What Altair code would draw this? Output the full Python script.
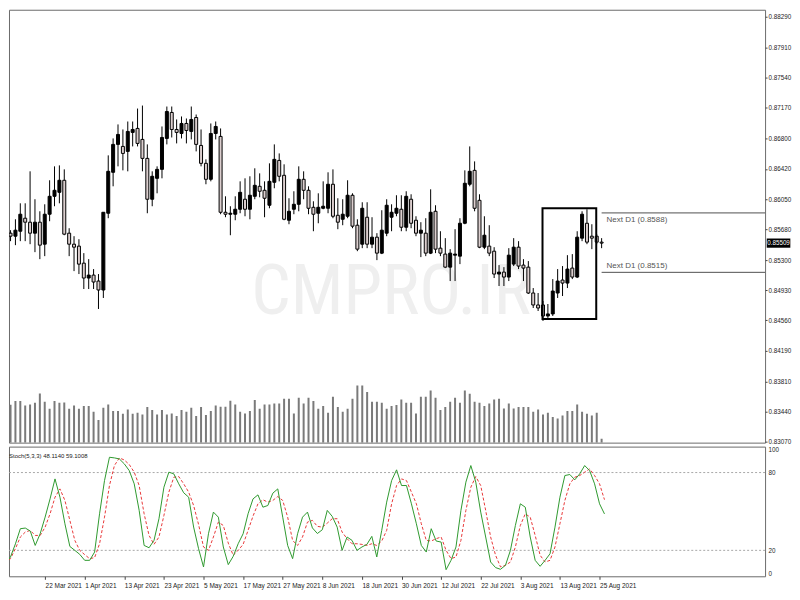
import json
import altair as alt
import pandas as pd

# ---------------- data ----------------
dates = pd.bdate_range("2021-03-10", periods=122)

opens = [
    0.85631, 0.85594, 0.85655, 0.85815, 0.85766, 0.85631, 0.85766, 0.85496, 0.85864, 0.86084,
    0.86133, 0.86281, 0.85631, 0.85496, 0.85472, 0.85263, 0.85080, 0.85116, 0.85043, 0.84933,
    0.85876, 0.86379, 0.86722, 0.86697, 0.86636, 0.86869, 0.86918, 0.86783, 0.86550, 0.86048,
    0.86305, 0.86415, 0.86795, 0.87114, 0.86905, 0.86856, 0.86979, 0.86881, 0.87052, 0.86709,
    0.86489, 0.86293, 0.86856, 0.86820, 0.85888, 0.85864, 0.85864, 0.85925, 0.86048, 0.85925,
    0.86084, 0.86207, 0.86158, 0.85974, 0.86256, 0.86525, 0.86342, 0.85790, 0.85925, 0.85986,
    0.86293, 0.86158, 0.85949, 0.85876, 0.85937, 0.85937, 0.86232, 0.85851, 0.85802, 0.85839,
    0.86097, 0.85729, 0.85496, 0.85827, 0.85496, 0.85582, 0.85386, 0.85631, 0.85827, 0.85876,
    0.85925, 0.85704, 0.86048, 0.85790, 0.85631, 0.85631, 0.85386, 0.85900, 0.85447, 0.85374,
    0.85214, 0.85361, 0.85349, 0.85753, 0.86232, 0.86403, 0.86035, 0.85459, 0.85472, 0.85410,
    0.85129, 0.85153, 0.85092, 0.85251, 0.85459, 0.85239, 0.85214, 0.84896, 0.84749, 0.84749,
    0.84614, 0.84639, 0.84896, 0.85055, 0.85018, 0.85202, 0.85092, 0.85570, 0.85753, 0.85594,
    0.85594, 0.85521,
]
highs = [
    0.85668, 0.85802, 0.85998, 0.85998, 0.86391, 0.86048, 0.85900, 0.85986, 0.86281, 0.86452,
    0.86464, 0.86415, 0.85692, 0.85594, 0.85557, 0.85386, 0.85312, 0.85190, 0.85129, 0.85888,
    0.86587, 0.86795, 0.86967, 0.86905, 0.87003, 0.87003, 0.87162, 0.87199, 0.86722, 0.86391,
    0.86452, 0.86942, 0.87187, 0.87187, 0.87028, 0.87065, 0.87040, 0.87187, 0.87089, 0.86905,
    0.86538, 0.86979, 0.87003, 0.86918, 0.86084, 0.85962, 0.86084, 0.86268, 0.86305, 0.86330,
    0.86428, 0.86366, 0.86268, 0.86489, 0.86722, 0.86611, 0.86477, 0.86060, 0.86146, 0.86452,
    0.86391, 0.86207, 0.86023, 0.86121, 0.86268, 0.86379, 0.86415, 0.86060, 0.86048, 0.86281,
    0.86121, 0.85802, 0.86011, 0.86011, 0.85827, 0.85631, 0.85913, 0.86048, 0.85986, 0.86097,
    0.86097, 0.86146, 0.86109, 0.85839, 0.85766, 0.85815, 0.86170, 0.85974, 0.85655, 0.85570,
    0.85435, 0.85680, 0.85815, 0.86403, 0.86697, 0.86513, 0.86109, 0.85839, 0.85729, 0.85459,
    0.85239, 0.85214, 0.85447, 0.85570, 0.85533, 0.85312, 0.85288, 0.84957, 0.84896, 0.84798,
    0.84761, 0.85067, 0.85190, 0.85227, 0.85361, 0.85374, 0.85655, 0.85900, 0.85925, 0.85741,
    0.85619, 0.85570,
]
lows = [
    0.85533, 0.85484, 0.85533, 0.85533, 0.85496, 0.85398, 0.85312, 0.85349, 0.85778, 0.85962,
    0.85998, 0.85606, 0.85349, 0.85165, 0.85129, 0.84945, 0.84945, 0.84945, 0.84700, 0.84835,
    0.85815, 0.86207, 0.86452, 0.86403, 0.86391, 0.86697, 0.86697, 0.86391, 0.85876, 0.85962,
    0.86121, 0.86305, 0.86722, 0.86807, 0.86734, 0.86795, 0.86734, 0.86783, 0.86636, 0.86452,
    0.86232, 0.86268, 0.86783, 0.85864, 0.85827, 0.85606, 0.85790, 0.85876, 0.85839, 0.85802,
    0.86048, 0.86072, 0.85827, 0.85937, 0.86183, 0.86268, 0.85790, 0.85741, 0.85864, 0.85900,
    0.86048, 0.85864, 0.85655, 0.85753, 0.85925, 0.85876, 0.85815, 0.85680, 0.85729, 0.85815,
    0.85692, 0.85410, 0.85447, 0.85447, 0.85447, 0.85300, 0.85374, 0.85594, 0.85655, 0.85839,
    0.85655, 0.85655, 0.85692, 0.85594, 0.85337, 0.85349, 0.85374, 0.85386, 0.85349, 0.85202,
    0.85043, 0.85043, 0.85251, 0.85741, 0.86207, 0.85900, 0.85447, 0.85435, 0.85349, 0.85080,
    0.84982, 0.84982, 0.85043, 0.85227, 0.85190, 0.85043, 0.84884, 0.84712, 0.84675, 0.84553,
    0.84590, 0.84614, 0.84835, 0.84859, 0.84957, 0.85067, 0.85080, 0.85533, 0.85496, 0.85435,
    0.85496, 0.85447,
]
closes = [
    0.85594, 0.85668, 0.85864, 0.85766, 0.85631, 0.85766, 0.85484, 0.85864, 0.86084, 0.86158,
    0.86281, 0.85619, 0.85496, 0.85459, 0.85251, 0.85080, 0.85116, 0.85031, 0.84933, 0.85888,
    0.86391, 0.86722, 0.86844, 0.86611, 0.86881, 0.86905, 0.86734, 0.86550, 0.86048, 0.86330,
    0.86415, 0.86807, 0.87126, 0.86905, 0.86869, 0.86979, 0.86893, 0.87028, 0.86722, 0.86489,
    0.86293, 0.86856, 0.86942, 0.85888, 0.85864, 0.85876, 0.85925, 0.86133, 0.85925, 0.86097,
    0.86219, 0.86146, 0.86060, 0.86268, 0.86538, 0.86330, 0.85802, 0.85900, 0.85986, 0.86293,
    0.86158, 0.85937, 0.85864, 0.85949, 0.85962, 0.86232, 0.85839, 0.85766, 0.85864, 0.86097,
    0.85717, 0.85435, 0.85937, 0.85496, 0.85582, 0.85386, 0.85668, 0.85974, 0.85888, 0.85937,
    0.85704, 0.86084, 0.85753, 0.85631, 0.85668, 0.85386, 0.85888, 0.85435, 0.85386, 0.85214,
    0.85386, 0.85374, 0.85753, 0.86244, 0.86391, 0.85937, 0.85459, 0.85606, 0.85386, 0.85129,
    0.85153, 0.85092, 0.85361, 0.85459, 0.85227, 0.85202, 0.84896, 0.84749, 0.84712, 0.84614,
    0.84639, 0.84920, 0.85043, 0.85018, 0.85190, 0.85092, 0.85582, 0.85864, 0.85521, 0.85570,
    0.85521, 0.85509,
]
volumes = [
    38000, 41700, 41700, 37300, 38300, 40000, 49300, 41000, 34000, 41700,
    40000, 40300, 34000, 37300, 34000, 36700, 36700, 31000, 22700, 35000,
    38300, 31700, 31700, 29000, 33300, 29000, 30000, 28300, 35700, 32700,
    28300, 32700, 28300, 29300, 26700, 32700, 31000, 35000, 26700, 35700,
    27700, 31700, 37300, 36000, 36000, 42000, 38300, 31000, 29300, 31700,
    42700, 34000, 38300, 38300, 39300, 39300, 44000, 44000, 29300, 45000,
    39300, 45000, 41700, 34000, 36700, 30000, 46000, 35700, 31000, 34000,
    44000, 57300, 57300, 50700, 41000, 41000, 40000, 34000, 36700, 37700,
    43300, 40000, 40000, 29300, 46000, 46000, 52300, 45000, 32700, 35700,
    41000, 45000, 40000, 52300, 49000, 41000, 40000, 36700, 39300, 43300,
    44000, 34300, 39300, 34300, 35700, 35700, 35700, 31000, 33300, 28300,
    30000, 25700, 24300, 27300, 31700, 31700, 38300, 31000, 29000, 27300,
    30000, 4000,
]
stoch_k = [
    9.7, 14.9, 25.0, 36.7, 37.2, 34.9, 23.8, 32.8, 45.6, 59.7,
    75.1, 61.0, 40.5, 23.0, 20.0, 16.9, 12.3, 12.3, 18.7, 48.2,
    73.8, 91.8, 91.3, 90.5, 86.7, 81.5, 71.3, 50.8, 23.8, 22.0,
    27.7, 44.4, 68.7, 80.3, 79.0, 71.3, 64.4, 61.0, 38.0, 21.3,
    7.2, 32.8, 49.5, 45.6, 22.6, 9.0, 15.4, 25.1, 32.8, 48.2,
    59.7, 62.8, 53.3, 54.6, 64.1, 67.4, 45.6, 23.8, 13.6, 32.8,
    45.6, 49.5, 37.3, 33.0, 35.9, 50.8, 46.2, 37.9, 20.0, 30.3,
    27.7, 20.0, 22.6, 24.6, 30.8, 14.9, 35.4, 57.2, 73.8, 82.1,
    70.0, 70.0, 55.9, 40.5, 23.8, 18.7, 36.7, 27.2, 26.4, 5.1,
    12.3, 22.6, 50.8, 72.6, 85.4, 72.6, 49.5, 30.3, 11.0, 6.7,
    5.4, 8.5, 20.0, 39.2, 55.9, 53.3, 30.3, 12.3, 7.7, 12.3,
    17.4, 37.9, 61.0, 77.7, 78.5, 74.4, 79.0, 85.4, 81.5, 71.3,
    55.9, 48.114,
]
stoch_d = [
    9.7, 13.6, 21.3, 30.3, 34.1, 35.4, 31.5, 31.5, 37.9, 48.2,
    61.0, 67.4, 58.5, 43.1, 27.7, 20.0, 16.7, 13.6, 14.4, 25.1,
    45.6, 70.0, 85.4, 91.3, 89.7, 86.2, 80.3, 70.0, 48.2, 31.5,
    24.6, 30.3, 46.9, 64.9, 76.4, 76.9, 71.3, 64.9, 54.6, 40.0,
    22.6, 20.0, 30.3, 41.8, 39.2, 25.6, 16.2, 20.0, 24.6, 35.4,
    46.4, 55.9, 59.0, 57.2, 58.5, 61.5, 58.5, 45.6, 27.7, 23.8,
    30.3, 41.8, 43.1, 38.5, 37.9, 41.0, 44.4, 44.4, 34.1, 29.0,
    25.1, 25.1, 24.6, 23.8, 25.1, 23.8, 27.2, 35.4, 55.9, 70.0,
    75.1, 73.8, 64.9, 55.9, 40.5, 27.7, 27.2, 29.0, 30.3, 20.0,
    13.6, 14.9, 27.7, 50.8, 68.7, 76.9, 70.0, 50.8, 30.3, 16.2,
    7.2, 8.5, 11.0, 22.6, 39.2, 48.2, 45.6, 31.5, 16.2, 11.0,
    12.3, 22.6, 40.5, 58.5, 71.3, 76.4, 77.7, 80.3, 82.8, 77.7,
    71.3, 59.1008,
]

tick_labels = ["22 Mar 2021", "1 Apr 2021", "13 Apr 2021", "23 Apr 2021",
               "5 May 2021", "17 May 2021", "27 May 2021", "8 Jun 2021", "18 Jun 2021",
               "30 Jun 2021", "12 Jul 2021", "22 Jul 2021", "3 Aug 2021", "13 Aug 2021",
               "25 Aug 2021"]
price_ticks = [0.88290, 0.87910, 0.87540, 0.87170, 0.86800, 0.86420, 0.86050, 0.85680,
               0.85300, 0.84930, 0.84560, 0.84190, 0.83810, 0.83440, 0.83070]
next_prices = [0.8588, 0.8515]
next_labels = ["Next D1 (0.8588)", "Next D1 (0.8515)"]
next_side = ["below", "above"]
current_price = [0.85509]
box_x = [108.9, 119.9]
box_y = [0.85937, 0.84577]
stoch_levels = [20, 80]
stoch_axis_ticks = [0, 20, 80, 100]
stoch_title = ["Stoch(5,3,3) 48.1140 59.1008"]
watermark = ["CMPRO.IR"]

# ---------------- tables ----------------
date_strs = [f"{d.day} {d.strftime('%b %Y')}" for d in dates]
df = pd.DataFrame({
    "idx": list(range(len(dates))),
    "date": date_strs,
    "open": opens, "high": highs, "low": lows, "close": closes,
    "volume": volumes, "k": stoch_k, "d": stoch_d,
})
tick_idx = [date_strs.index(t) for t in tick_labels]
idx_to_label = {i: t for i, t in zip(tick_idx, tick_labels)}
label_expr = json.dumps({str(k): v for k, v in idx_to_label.items()}) + "[toString(datum.value)]"

last_idx = len(dates) - 1
df_next = pd.DataFrame({"price": next_prices, "label": next_labels,
                        "side": next_side, "start": [last_idx] * len(next_prices)})
df_cur = pd.DataFrame({"price": current_price,
                       "label": [f"{p:.5f}" for p in current_price]})
df_box = pd.DataFrame({"x": [box_x[0]], "x2": [box_x[1]], "y": [box_y[0]], "y2": [box_y[1]]})
df_lv = pd.DataFrame({"level": stoch_levels})

# ---------------- scales / axes ----------------
FONT = "Liberation Sans"
xs = alt.Scale(domain=[0.705, 153.44], nice=False, zero=False)
ps = alt.Scale(domain=[0.83058, 0.88376], nice=False, zero=False)
vs = alt.Scale(domain=[0, 434000], nice=False)
ss = alt.Scale(domain=[0, 100], nice=False)

price_axis = alt.Axis(orient="right", values=price_ticks, format=".5f", title=None,
                      grid=False, domain=False, tickSize=2, labelPadding=1,
                      labelFontSize=6.3, labelFont=FONT, labelColor="#222",
                      tickColor="#444", labelOverlap=False)
W_MAIN, H_MAIN, H_STOCH = 758, 434, 130

X = alt.X("idx:Q", scale=xs, axis=None)

water = alt.Chart(pd.DataFrame({"t": watermark})).mark_text(
    font="Liberation Sans Narrow, Roboto Condensed, DejaVu Sans Condensed, sans-serif",
    fontSize=70, color="#efefef", align="center", baseline="middle"
).encode(x=alt.value(383), y=alt.value(284), text="t:N")

vol = alt.Chart(df).mark_bar(size=2, color="#7a7a7a", clip=True).encode(
    x=X, y=alt.Y("volume:Q", scale=vs, axis=None))

wick = alt.Chart(df).mark_rule(color="black", strokeWidth=1, clip=True).encode(
    x=X, y=alt.Y("low:Q", scale=ps, axis=price_axis), y2="high:Q")

body = alt.Chart(df).mark_bar(size=3, stroke="black", strokeWidth=1, clip=True).encode(
    x=X, y=alt.Y("open:Q", scale=ps, axis=price_axis), y2="close:Q",
    fill=alt.condition("datum.close > datum.open", alt.value("black"), alt.value("#dccfcf")))

box = alt.Chart(df_box).mark_rect(fillOpacity=0, stroke="black", strokeWidth=2).encode(
    x=alt.X("x:Q", scale=xs, axis=None), x2="x2:Q",
    y=alt.Y("y:Q", scale=ps, axis=price_axis), y2="y2:Q")

next_rule = alt.Chart(df_next).mark_rule(color="#505050", strokeWidth=1).encode(
    x=alt.X("start:Q", scale=xs, axis=None), x2=alt.value(W_MAIN),
    y=alt.Y("price:Q", scale=ps, axis=price_axis))

next_txt_below = alt.Chart(df_next).transform_filter("datum.side == 'below'").mark_text(
    align="left", baseline="top", dx=5, dy=3, fontSize=8, font=FONT, color="#555"
).encode(x=alt.X("start:Q", scale=xs, axis=None),
         y=alt.Y("price:Q", scale=ps, axis=price_axis), text="label:N")

next_txt_above = alt.Chart(df_next).transform_filter("datum.side == 'above'").mark_text(
    align="left", baseline="bottom", dx=5, dy=-2, fontSize=8, font=FONT, color="#555"
).encode(x=alt.X("start:Q", scale=xs, axis=None),
         y=alt.Y("price:Q", scale=ps, axis=price_axis), text="label:N")

cur_box = alt.Chart(df_cur).mark_point(
    shape="M-1,-0.39L1,-0.39L1,0.39L-1,0.39Z", filled=True, color="black",
    opacity=1, size=560
).encode(x=alt.value(771.5), y=alt.Y("price:Q", scale=ps, axis=price_axis))

cur_txt = alt.Chart(df_cur).mark_text(
    color="white", fontSize=6.3, font=FONT, align="center", baseline="middle"
).encode(x=alt.value(771.5), y=alt.Y("price:Q", scale=ps, axis=price_axis), text="label:N")

price_layers = alt.layer(wick, body, box, next_rule, next_txt_below, next_txt_above,
                         cur_box, cur_txt)

main = alt.layer(water, vol, price_layers).resolve_scale(y="independent").properties(
    width=W_MAIN, height=H_MAIN)

# ---------------- stochastic panel ----------------
date_axis = alt.Axis(values=tick_idx, labelExpr=label_expr, labelAlign="left",
                     tickSize=3, labelPadding=3, domain=False, grid=False, title=None,
                     labelFontSize=6.5, labelFont=FONT, labelColor="#222",
                     tickColor="#444", labelOverlap=False, labelFlush=False)
stoch_axis = alt.Axis(orient="right", values=stoch_axis_ticks, labelFlush=True,
                      tickSize=0, labelPadding=3, domain=False, grid=False, title=None,
                      labelFontSize=6.3, labelFont=FONT, labelColor="#222")

XS = alt.X("idx:Q", scale=xs, axis=date_axis)

levels = alt.Chart(df_lv).mark_rule(color="#a8a8a8", strokeWidth=1, strokeDash=[2, 2]).encode(
    y=alt.Y("level:Q", scale=ss, axis=stoch_axis))

k_line = alt.Chart(df).mark_line(color="#2f9a2f", strokeWidth=1, clip=True).encode(
    x=XS, y=alt.Y("k:Q", scale=ss, axis=stoch_axis))

d_line = alt.Chart(df).mark_line(color="#e8393a", strokeWidth=1, strokeDash=[3, 2],
                                 clip=True).encode(
    x=XS, y=alt.Y("d:Q", scale=ss, axis=stoch_axis))

s_title = alt.Chart(pd.DataFrame({"t": stoch_title})).mark_text(
    align="left", baseline="middle", fontSize=6, font=FONT, color="#222"
).encode(x=alt.value(0), y=alt.value(9), text="t:N")

stoch = alt.layer(levels, d_line, k_line, s_title).properties(width=W_MAIN, height=H_STOCH)

chart = alt.vconcat(main, stoch, spacing=4, bounds="flush").properties(
    padding={"left": 0, "top": 0, "right": 0, "bottom": 0},
    background="white",
).configure_view(stroke="#6b6b6b", strokeWidth=1)

chart.save("out.html", embed_options={"renderer": "svg", "actions": False})
